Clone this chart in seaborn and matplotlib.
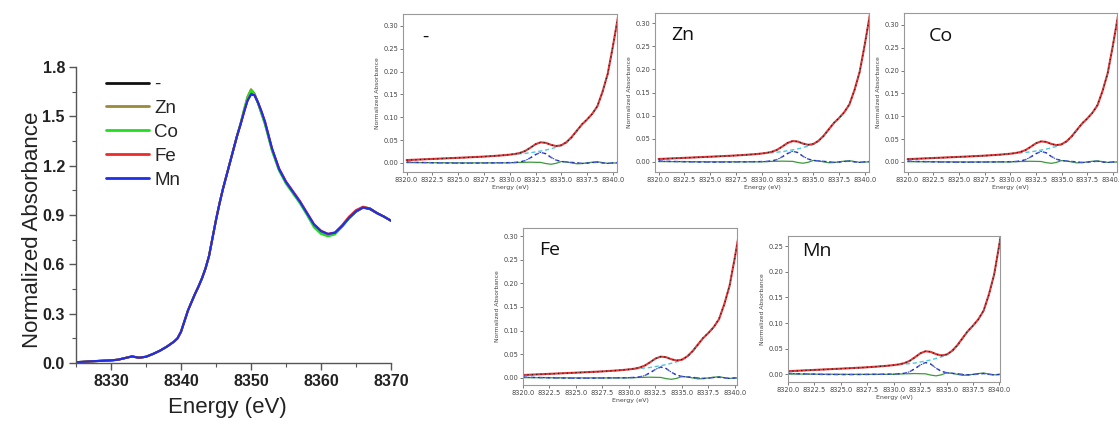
import matplotlib
matplotlib.use("Agg")
import matplotlib.pyplot as plt
import seaborn as sns
import numpy as np
from matplotlib.ticker import MultipleLocator, FormatStrFormatter

# ---------------- main XANES data ----------------
energy = [8325, 8326, 8327, 8328, 8329, 8330, 8331, 8332, 8333, 8334, 8335, 8336, 8337, 8338,
          8339, 8339.5, 8340, 8340.5, 8341, 8341.5, 8342, 8342.5, 8343, 8343.5, 8344, 8344.5,
          8345, 8345.5, 8346, 8346.5, 8347, 8347.5, 8348, 8348.5, 8349, 8349.5, 8350, 8350.5,
          8351, 8351.5, 8352, 8353, 8354, 8355, 8356, 8357, 8358, 8359, 8360, 8361, 8362, 8363,
          8364, 8365, 8366, 8367, 8368, 8369, 8370]

abs_none = [0.005, 0.007, 0.010, 0.012, 0.014, 0.016, 0.020, 0.030, 0.040, 0.032, 0.038, 0.055, 0.075, 0.100,
            0.130, 0.150, 0.190, 0.255, 0.320, 0.370, 0.420, 0.465, 0.515, 0.575, 0.650, 0.760,
            0.870, 0.970, 1.060, 1.140, 1.220, 1.300, 1.380, 1.450, 1.530, 1.600, 1.640, 1.630,
            1.580, 1.520, 1.460, 1.300, 1.180, 1.100, 1.040, 0.980, 0.910, 0.840, 0.800, 0.780, 0.790, 0.830,
            0.880, 0.920, 0.945, 0.935, 0.910, 0.890, 0.865]
abs_zn = [0.005, 0.007, 0.010, 0.012, 0.014, 0.016, 0.020, 0.030, 0.040, 0.032, 0.038, 0.055, 0.075, 0.100,
          0.130, 0.150, 0.190, 0.255, 0.320, 0.370, 0.420, 0.465, 0.515, 0.575, 0.650, 0.760,
          0.870, 0.970, 1.060, 1.140, 1.220, 1.300, 1.380, 1.455, 1.540, 1.620, 1.665, 1.640,
          1.585, 1.520, 1.455, 1.295, 1.175, 1.095, 1.035, 0.975, 0.905, 0.835, 0.795, 0.782, 0.790, 0.830,
          0.880, 0.920, 0.945, 0.938, 0.912, 0.890, 0.865]
abs_co = [0.005, 0.007, 0.010, 0.012, 0.014, 0.016, 0.020, 0.030, 0.040, 0.032, 0.038, 0.055, 0.075, 0.100,
          0.130, 0.150, 0.190, 0.255, 0.320, 0.370, 0.420, 0.465, 0.515, 0.575, 0.650, 0.760,
          0.870, 0.970, 1.060, 1.140, 1.220, 1.300, 1.380, 1.455, 1.540, 1.615, 1.660, 1.635,
          1.580, 1.515, 1.450, 1.290, 1.170, 1.090, 1.030, 0.970, 0.900, 0.825, 0.785, 0.770, 0.782, 0.828,
          0.880, 0.922, 0.950, 0.940, 0.912, 0.890, 0.865]
abs_fe = [0.005, 0.007, 0.010, 0.012, 0.014, 0.016, 0.020, 0.030, 0.040, 0.032, 0.038, 0.055, 0.075, 0.100,
          0.130, 0.150, 0.190, 0.255, 0.320, 0.370, 0.420, 0.465, 0.515, 0.575, 0.650, 0.760,
          0.870, 0.970, 1.060, 1.140, 1.220, 1.300, 1.380, 1.450, 1.525, 1.595, 1.635, 1.630,
          1.585, 1.530, 1.470, 1.305, 1.185, 1.105, 1.045, 0.985, 0.915, 0.845, 0.805, 0.785, 0.795, 0.838,
          0.890, 0.930, 0.950, 0.940, 0.912, 0.890, 0.865]
abs_mn = [0.005, 0.007, 0.010, 0.012, 0.014, 0.016, 0.020, 0.030, 0.040, 0.032, 0.038, 0.055, 0.075, 0.100,
          0.130, 0.150, 0.190, 0.255, 0.320, 0.370, 0.420, 0.465, 0.515, 0.575, 0.650, 0.760,
          0.870, 0.970, 1.060, 1.140, 1.220, 1.300, 1.380, 1.450, 1.525, 1.595, 1.632, 1.628,
          1.585, 1.530, 1.465, 1.305, 1.180, 1.100, 1.040, 0.980, 0.910, 0.842, 0.802, 0.785, 0.792, 0.832,
          0.882, 0.922, 0.945, 0.938, 0.912, 0.890, 0.865]

series_labels = ["-", "Zn", "Co", "Fe", "Mn"]
series_values = [abs_none, abs_zn, abs_co, abs_fe, abs_mn]
series_colors = ["#111111", "#9a8a3a", "#22dd22", "#ee2a2a", "#1f2ee8"]

# ---------------- pre-edge fit data (shared by the five small panels) ----------------
pe_energy = [8320.0, 8320.5, 8321.0, 8321.5, 8322.0, 8322.5, 8323.0, 8323.5, 8324.0, 8324.5,
             8325.0, 8325.5, 8326.0, 8326.5, 8327.0, 8327.5, 8328.0, 8328.5, 8329.0, 8329.5,
             8330.0, 8330.5, 8331.0, 8331.5, 8332.0, 8332.5, 8333.0, 8333.5, 8334.0, 8334.5,
             8335.0, 8335.5, 8336.0, 8336.5, 8337.0, 8337.5, 8338.0, 8338.5, 8339.0, 8339.5,
             8340.0, 8340.5]
pe_data = [0.006, 0.0065, 0.007, 0.0075, 0.008, 0.0085, 0.009, 0.0095, 0.010, 0.0105,
           0.011, 0.0115, 0.012, 0.0125, 0.013, 0.0137, 0.0145, 0.0152, 0.016, 0.017,
           0.018, 0.0195, 0.022, 0.026, 0.033, 0.041, 0.045, 0.044, 0.039, 0.037,
           0.039, 0.045, 0.056, 0.070, 0.085, 0.095, 0.107, 0.125, 0.155, 0.195,
           0.255, 0.320]
pe_fit = [0.0062, 0.0066, 0.0071, 0.0076, 0.0081, 0.0086, 0.0091, 0.0096, 0.0101, 0.0106,
          0.0111, 0.0116, 0.0121, 0.0127, 0.0132, 0.0138, 0.0145, 0.0152, 0.0160, 0.0169,
          0.0180, 0.0194, 0.0218, 0.0262, 0.0332, 0.0408, 0.0450, 0.0438, 0.0395, 0.0368,
          0.0385, 0.0455, 0.0565, 0.0705, 0.0840, 0.0950, 0.1075, 0.1240, 0.1560, 0.1950,
          0.2550, 0.3200]
pe_background = [0.006, 0.0065, 0.007, 0.0075, 0.008, 0.0085, 0.009, 0.0095, 0.010, 0.0105,
                 0.011, 0.0115, 0.012, 0.0125, 0.013, 0.0137, 0.0145, 0.0152, 0.016, 0.017,
                 0.018, 0.019, 0.020, 0.021, 0.022, 0.024, 0.026, 0.028, 0.031, 0.034,
                 0.038, 0.044, 0.055, 0.069, 0.084, 0.095, 0.107, 0.125, 0.155, 0.195,
                 0.255, 0.320]
pe_peak = [0.002, 0.0015, 0.001, 0.0008, 0.0005, 0.0003, 0.0, -0.0002, -0.0003, -0.0004,
           -0.0005, -0.0005, -0.0005, -0.0004, -0.0003, -0.0002, 0.0, 0.0, 0.0002, 0.0003,
           0.0005, 0.001, 0.002, 0.005, 0.011, 0.018, 0.023, 0.020, 0.012, 0.006,
           0.003, 0.002, 0.001, 0.0, -0.001, -0.0005, 0.0008, 0.0015, 0.0, -0.0012,
           0.0, 0.0005]
pe_residual = [0.0005, 0.0005, 0.0005, 0.0004, 0.0004, 0.0003, 0.0003, 0.0002, 0.0002, 0.0001,
               0.0001, 0.0, 0.0, 0.0, 0.0, 0.0, 0.0, 0.0, 0.0, 0.0,
               0.0, 0.0005, 0.001, 0.0012, 0.0015, 0.0012, 0.001, -0.0015, -0.003, -0.001,
               0.003, 0.002, 0.0, -0.002, -0.0015, 0.0, 0.0015, 0.0025, 0.0005, -0.001,
               -0.0005, 0.0]

panel_labels = ["-", "Zn", "Co", "Fe", "Mn"]

W, H = 1119, 421
sns.set_theme(style="ticks")
plt.rcParams["font.family"] = ["DejaVu Sans"]

fig = plt.figure(figsize=(W / 100, H / 100), dpi=100)
fig.patch.set_facecolor("white")


def px_axes(left, top, right, bottom):
    return fig.add_axes([left / W, 1 - bottom / H, (right - left) / W, (bottom - top) / H])


# ---------------- main plot ----------------
ax = px_axes(76, 67, 391, 363)
for lab, vals, col in zip(series_labels, series_values, series_colors):
    sns.lineplot(x=energy, y=vals, ax=ax, color=col, lw=1.5, label=lab)
ax.set_xlim(8325, 8370)
ax.set_ylim(0, 1.8)
ax.xaxis.set_major_locator(MultipleLocator(10))
ax.xaxis.set_minor_locator(MultipleLocator(5))
ax.yaxis.set_major_locator(MultipleLocator(0.3))
ax.yaxis.set_minor_locator(MultipleLocator(0.15))
ax.yaxis.set_major_formatter(FormatStrFormatter("%.1f"))
sns.despine(ax=ax)
for sp in ["left", "bottom"]:
    ax.spines[sp].set_color("#555555")
    ax.spines[sp].set_linewidth(1.0)
ax.tick_params(which="major", length=5, width=1, color="#555555", direction="out", pad=3)
ax.tick_params(which="minor", length=3, width=0.8, color="#555555", direction="out")
for t in ax.get_xticklabels() + ax.get_yticklabels():
    t.set_family("Liberation Sans")
    t.set_fontweight("bold")
    t.set_fontsize(11.5)
    t.set_color("#222222")
ax.set_xlabel("Energy (eV)", fontsize=16, family="Liberation Sans", color="#222222", labelpad=6)
ax.set_ylabel("Normalized Absorbance", fontsize=16, family="Liberation Sans", color="#222222")
ax.yaxis.set_label_coords(-0.105, 0.45)
ax.xaxis.set_label_coords(0.48, -0.115)
leg = ax.legend(loc="upper left", bbox_to_anchor=(0.07, 0.995), frameon=False,
                prop={"family": "Liberation Sans", "size": 13.5},
                handlelength=2.3, handletextpad=0.3, labelspacing=0.36, borderaxespad=0)
for line in leg.get_lines():
    line.set_linewidth(2)

# ---------------- small pre-edge panels ----------------
panels = [
    # (left, top, right, bottom, xlim, ylim, yticks_max, label pos)
    (403, 14, 617, 172, (8319.65, 8340.4), (-0.02, 0.326), 0.30, (0.09, 0.855)),
    (655, 13, 869, 172, (8319.65, 8340.4), (-0.022, 0.322), 0.30, (0.075, 0.86)),
    (904, 13, 1117, 172, (8319.65, 8340.4), (-0.022, 0.326), 0.30, (0.115, 0.855)),
    (523, 228, 737, 385, (8320.0, 8340.2), (-0.015, 0.317), 0.30, (0.075, 0.86)),
    (788, 236, 1000, 382, (8320.0, 8340.05), (-0.015, 0.27), 0.25, (0.065, 0.9)),
]

for (l, t, r, b, xl, yl, ymax, lpos), plab in zip(panels, panel_labels):
    pax = px_axes(l, t, r, b)
    sns.lineplot(x=pe_energy, y=pe_background, ax=pax, color="#4cc8e0", lw=1.0, linestyle=(0, (3, 2)))
    sns.lineplot(x=pe_energy, y=pe_residual, ax=pax, color="#3c9a3c", lw=0.9)
    sns.lineplot(x=pe_energy, y=pe_peak, ax=pax, color="#4a5ce8", lw=1.1, linestyle=(0, (3, 2)))
    sns.lineplot(x=pe_energy, y=pe_peak, ax=pax, color="#1a2a6a", lw=0.6, linestyle=(0, (2, 4)))
    sns.lineplot(x=pe_energy, y=pe_fit, ax=pax, color="#e03a3a", lw=1.5)
    sns.lineplot(x=pe_energy, y=pe_data, ax=pax, color="#222222", lw=0.9, linestyle=(0, (1, 2.5)))
    pax.set_xlim(*xl)
    pax.set_ylim(*yl)
    pax.set_xticks([8320.0, 8322.5, 8325.0, 8327.5, 8330.0, 8332.5, 8335.0, 8337.5, 8340.0])
    pax.set_yticks(list(np.arange(0, ymax + 0.001, 0.05)))
    pax.xaxis.set_major_formatter(FormatStrFormatter("%.1f"))
    pax.yaxis.set_major_formatter(FormatStrFormatter("%.2f"))
    pax.tick_params(labelsize=4.8, length=2, width=0.5, pad=1.5, colors="#444444")
    for sp in pax.spines.values():
        sp.set_color("#999999")
        sp.set_linewidth(0.8)
    pax.set_xlabel("Energy (eV)", fontsize=4.5, color="#444444", labelpad=1.5)
    pax.set_ylabel("Normalized Absorbance", fontsize=4.3, color="#444444", labelpad=2)
    pax.text(lpos[0], lpos[1], plab, transform=pax.transAxes, fontsize=14,
             family="Open Sans", color="#111111", ha="left", va="center")

fig.savefig("out.png", dpi=100, facecolor="white")
